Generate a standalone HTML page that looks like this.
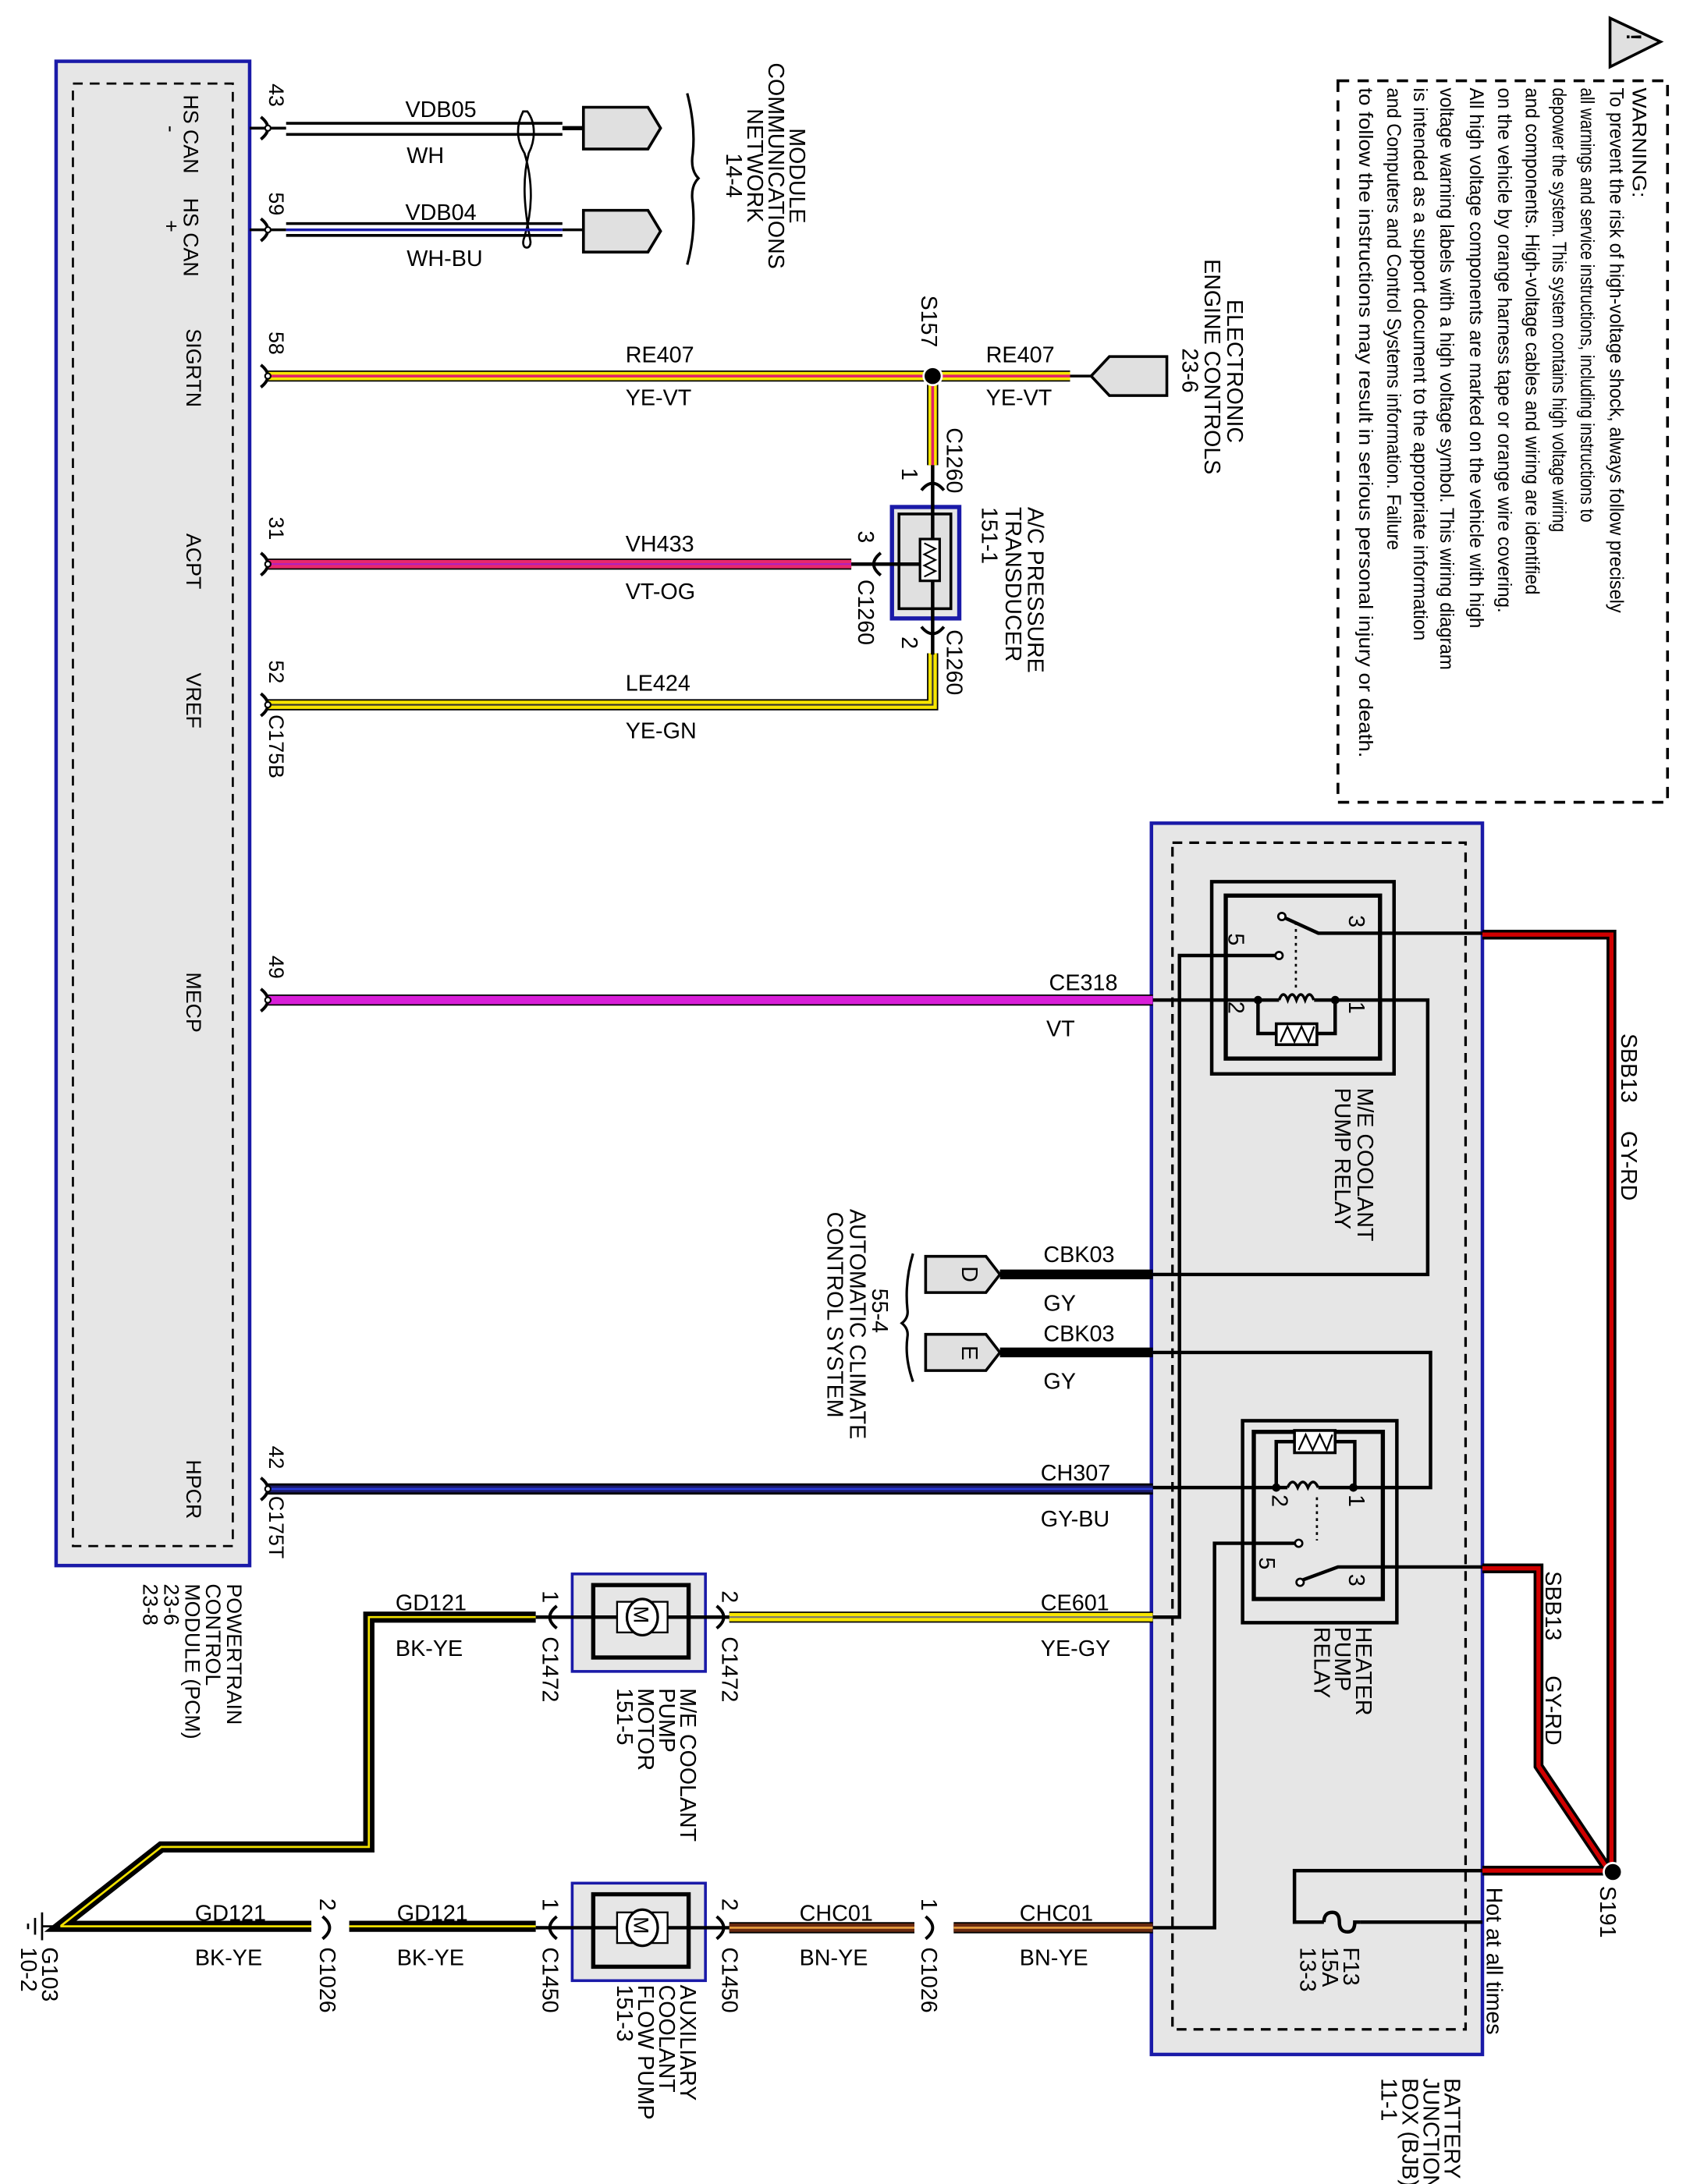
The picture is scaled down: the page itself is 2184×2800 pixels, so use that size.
<!DOCTYPE html>
<html><head><meta charset="utf-8"><style>
html,body{margin:0;padding:0;background:#fff}
svg{display:block}
text{font-family:"Liberation Sans",Arial,sans-serif;fill:#000}
.l{font-size:16px}
.s{font-size:15px}
.w{font-size:14px}
.th{fill:none;stroke:#000;stroke-width:2.5}
.ch{fill:none;stroke:#000;stroke-width:2.2}
</style></head><body>
<svg xmlns="http://www.w3.org/2000/svg" width="2184" height="2800" viewBox="0 0 1215 1568" preserveAspectRatio="none">
<rect width="1215" height="1568" fill="#fff"/>

<!-- PCM -->
<rect x="40" y="44" width="138" height="1080" fill="#e6e6e6" stroke="#1a1aa8" stroke-width="2.5"/>
<rect x="52" y="60" width="114" height="1050" fill="none" stroke="#000" stroke-width="1.5" stroke-dasharray="7 5"/>
<g class="s">
<text transform="translate(131 68) rotate(90)">HS CAN</text>
<text transform="translate(117 90) rotate(90)">-</text>
<text transform="translate(131 142) rotate(90)">HS CAN</text>
<text transform="translate(117 158) rotate(90)">+</text>
<text transform="translate(133 236) rotate(90)">SIGRTN</text>
<text transform="translate(133 383) rotate(90)">ACPT</text>
<text transform="translate(133 483) rotate(90)">VREF</text>
<text transform="translate(133 698) rotate(90)">MECP</text>
<text transform="translate(133 1048) rotate(90)">HPCR</text>
<text transform="translate(192 60) rotate(90)">43</text>
<text transform="translate(192 138) rotate(90)">59</text>
<text transform="translate(192 238) rotate(90)">58</text>
<text transform="translate(192 371) rotate(90)">31</text>
<text transform="translate(192 474) rotate(90)">52</text>
<text transform="translate(192 686) rotate(90)">49</text>
<text transform="translate(192 1038) rotate(90)">42</text>
<text transform="translate(192 513) rotate(90)">C175B</text>
<text transform="translate(192 1074) rotate(90)">C175T</text>
<text transform="translate(162 1137) rotate(90)">POWERTRAIN</text>
<text transform="translate(147 1137) rotate(90)">CONTROL</text>
<text transform="translate(132 1137) rotate(90)">MODULE (PCM)</text>
<text transform="translate(117 1137) rotate(90)">23-6</text>
<text transform="translate(102 1137) rotate(90)">23-8</text>
</g>

<!-- BJB -->
<rect x="821" y="591" width="236" height="884" fill="#e6e6e6" stroke="#1a1aa8" stroke-width="2.5"/>
<rect x="836" y="605" width="209" height="852" fill="none" stroke="#000" stroke-width="1.8" stroke-dasharray="7 5"/>

<!-- CAN wires -->
<g stroke="#000" stroke-width="2" fill="none">
<path d="M178 92 H204"/><path d="M178 165 H204"/>
<path d="M204 88.5 H401"/><path d="M204 96.5 H401"/>
<path d="M204 160.5 H401"/><path d="M204 169 H401"/>
<path d="M401 92 H416" stroke-width="3"/><path d="M401 165 H416"/>
<path d="M373 80 C 368 90, 368 100, 374 110 C 380 130, 380 150, 374 170 C 370 180, 380 180, 378 172 C 374 150, 372 130, 377 110 C 382 100, 382 88, 376 80 Z" stroke-width="1.5"/>
</g>
<path d="M204 165 H401" stroke="#1a1aa8" stroke-width="2"/>
<path d="M416 77 H462 L471 92 L462 107 H416 Z" fill="#e0e0e0" stroke="#000" stroke-width="2"/>
<path d="M416 151 H462 L471 166 L462 181 H416 Z" fill="#e0e0e0" stroke="#000" stroke-width="2"/>
<path d="M490 67 Q496 90 494 110 Q492 122 498 128 Q492 134 494 146 Q496 168 490 190" fill="none" stroke="#000" stroke-width="1.8"/>
<g class="l">
<text x="289" y="84">VDB05</text><text x="290" y="117">WH</text>
<text x="289" y="158">VDB04</text><text x="290" y="191">WH-BU</text>
<text transform="translate(563 92) rotate(90)">MODULE</text>
<text transform="translate(548 45) rotate(90)">COMMUNICATIONS</text>
<text transform="translate(533 78) rotate(90)">NETWORK</text>
<text transform="translate(518 110) rotate(90)">14-4</text>
</g>

<!-- Wire 58 YE-VT -->
<g fill="none" stroke-linejoin="miter">
<path d="M190 270 H763 M665 270 V334" stroke="#000" stroke-width="8"/>
<path d="M190 270 H763 M665 270 V334" stroke="#f7e600" stroke-width="6"/>
<path d="M190 270 H763 M665 270 V334" stroke="#e0206a" stroke-width="2"/>
<!-- 31 VT-OG -->
<path d="M190 405 H607" stroke="#000" stroke-width="8"/>
<path d="M190 405 H607" stroke="#e8286c" stroke-width="6"/>
<path d="M190 405 H607" stroke="#b020c0" stroke-width="1.2"/>
<!-- 52 YE-GN -->
<path d="M190 506 H665 V469" stroke="#000" stroke-width="8"/>
<path d="M190 506 H665 V469" stroke="#f7e600" stroke-width="6"/>
<path d="M190 506 H665 V469" stroke="#333" stroke-width="1.2"/>
<!-- 49 VT -->
<path d="M190 718 H822" stroke="#000" stroke-width="8"/>
<path d="M190 718 H822" stroke="#d81ed8" stroke-width="6"/>
<!-- 42 GY-BU -->
<path d="M190 1069 H822" stroke="#000" stroke-width="8"/>
<path d="M190 1069 H822" stroke="#1a1a6a" stroke-width="5"/>
<path d="M190 1069 H822" stroke="#2a3ad8" stroke-width="1.5"/>
<!-- CBK03 -->
<path d="M713 915 H822 M713 971 H822" stroke="#000" stroke-width="7"/>
<!-- CE601 YE-GY -->
<path d="M520 1161 H822" stroke="#000" stroke-width="8"/>
<path d="M520 1161 H822" stroke="#f7e600" stroke-width="6"/>
<path d="M520 1161 H822" stroke="#777" stroke-width="1.2"/>
<!-- GD121 -->
<path d="M382 1161 H263 V1326 H115 L43 1383 H222 M249 1383 H382" stroke="#000" stroke-width="8"/>
<path d="M382 1161 H263 V1326 H115 L43 1383 H222 M249 1383 H382" stroke="#f0e000" stroke-width="1.5"/>
<!-- CHC01 -->
<path d="M520 1384 H652 M680 1384 H822" stroke="#000" stroke-width="8"/>
<path d="M520 1384 H652 M680 1384 H822" stroke="#6a2a10" stroke-width="6"/>
<path d="M520 1384 H652 M680 1384 H822" stroke="#e8a040" stroke-width="1.5"/>
<!-- SBB13 -->
<path d="M1057 671 H1149 V1343 M1057 1126 H1097 V1268 L1147 1343 M1057 1343 H1147" stroke="#000" stroke-width="7"/>
<path d="M1057 671 H1149 V1343 M1057 1126 H1097 V1268 L1147 1343 M1057 1343 H1147" stroke="#d00000" stroke-width="3"/>
</g>
<circle cx="665" cy="270" r="6.5" fill="#000" stroke="#fff" stroke-width="1.5"/>
<circle cx="1150" cy="1344" r="6.5" fill="#000" stroke="#fff" stroke-width="1.5"/>

<!-- EEC connector -->
<path d="M763 270 H778 M778 270 L791 256 H832 V284 H791 Z" fill="#e0e0e0" stroke="#000" stroke-width="2"/>

<!-- chevrons on PCM pins -->
<g class="ch">
<path d="M186 84 Q196 92 186 100"/><path d="M186 157 Q196 165 186 173"/>
<path d="M186 262 Q196 270 186 278"/><path d="M186 397 Q196 405 186 413"/>
<path d="M186 498 Q196 506 186 514"/><path d="M186 710 Q196 718 186 726"/>
<path d="M186 1061 Q196 1069 186 1077"/>
<path d="M657 352 Q665 342 673 352"/>
<path d="M628 397 Q618 405 628 413"/>
<path d="M657 450 Q665 460 673 450"/>
<path d="M397 1153 Q387 1161 397 1169"/><path d="M511 1153 Q521 1161 511 1169"/>
<path d="M397 1376 Q387 1384 397 1392"/><path d="M511 1376 Q521 1384 511 1392"/>
<path d="M230 1376 Q240 1384 230 1392"/><path d="M660 1376 Q670 1384 660 1392"/>
</g>
<g fill="#fff" stroke="#000" stroke-width="1.2">
<circle cx="191" cy="92" r="2"/><circle cx="191" cy="165" r="2"/><circle cx="191" cy="270" r="2"/><circle cx="191" cy="405" r="2"/><circle cx="191" cy="506" r="2"/><circle cx="191" cy="718" r="2"/><circle cx="191" cy="1069" r="2"/>
</g>

<!-- A/C pressure transducer -->
<rect x="636" y="364" width="48" height="80" fill="#e6e6e6" stroke="#1a1aa8" stroke-width="3"/>
<rect x="641" y="369" width="37" height="68" fill="#e0e0e0" stroke="#000" stroke-width="2"/>
<path d="M665 334 V470 M607 405 H656" class="th"/>
<rect x="656" y="387" width="14" height="30" fill="#fff" stroke="#000" stroke-width="1.8"/>
<path d="M659 390 L667 394 L659 398 L667 402 L659 406 L667 410 L659 414" fill="none" stroke="#000" stroke-width="1.2"/>
<g class="l">
<text x="446" y="260">RE407</text><text x="446" y="291">YE-VT</text>
<text x="703" y="260">RE407</text><text x="703" y="291">YE-VT</text>
<text x="446" y="396">VH433</text><text x="446" y="430">VT-OG</text>
<text x="446" y="496">LE424</text><text x="446" y="530">YE-GN</text>
<text x="748" y="711">CE318</text><text x="746" y="744">VT</text>
<text x="744" y="906">CBK03</text><text x="744" y="941">GY</text>
<text x="744" y="963">CBK03</text><text x="744" y="997">GY</text>
<text x="742" y="1063">CH307</text><text x="742" y="1096">GY-BU</text>
<text x="742" y="1156">CE601</text><text x="742" y="1189">YE-GY</text>
<text x="282" y="1156">GD121</text><text x="282" y="1189">BK-YE</text>
<text x="570" y="1379">CHC01</text><text x="570" y="1411">BN-YE</text>
<text x="727" y="1379">CHC01</text><text x="727" y="1411">BN-YE</text>
<text x="283" y="1379">GD121</text><text x="283" y="1411">BK-YE</text>
<text x="139" y="1379">GD121</text><text x="139" y="1411">BK-YE</text>
</g>
<g class="l">
<text transform="translate(657 212) rotate(90)">S157</text>
<text transform="translate(675 307) rotate(90)">C1260</text>
<text transform="translate(643 336) rotate(90)">1</text>
<text transform="translate(612 381) rotate(90)">3</text>
<text transform="translate(612 416) rotate(90)">C1260</text>
<text transform="translate(643 457) rotate(90)">2</text>
<text transform="translate(675 452) rotate(90)">C1260</text>
<text transform="translate(733 364) rotate(90)">A/C PRESSURE</text>
<text transform="translate(717 364) rotate(90)">TRANSDUCER</text>
<text transform="translate(700 364) rotate(90)">151-1</text>
<text transform="translate(875 215) rotate(90)">ELECTRONIC</text>
<text transform="translate(859 186) rotate(90)">ENGINE CONTROLS</text>
<text transform="translate(843 250) rotate(90)">23-6</text>
</g>

<!-- ACCS connectors -->
<path d="M713 915 L703 902 H660 V928 H703 Z" fill="#e0e0e0" stroke="#000" stroke-width="2"/>
<path d="M713 971 L703 958 H660 V984 H703 Z" fill="#e0e0e0" stroke="#000" stroke-width="2"/>
<text class="l" transform="translate(686 909) rotate(90)">D</text>
<text class="l" transform="translate(686 966) rotate(90)">E</text>
<path d="M651 900 Q645 920 647 940 Q648 946 643 950 Q648 954 647 960 Q645 975 651 992" fill="none" stroke="#000" stroke-width="1.8"/>
<g class="l">
<text transform="translate(622 925) rotate(90)">55-4</text>
<text transform="translate(606 868) rotate(90)">AUTOMATIC CLIMATE</text>
<text transform="translate(590 870) rotate(90)">CONTROL SYSTEM</text>
</g>

<!-- M/E relay -->
<rect x="864" y="633" width="130" height="138" fill="none" stroke="#000" stroke-width="2.5"/>
<rect x="874" y="643" width="110" height="117" fill="none" stroke="#000" stroke-width="3"/>
<path class="th" d="M822 718 H897 M952 718 H1018 V915 H822 M897 718 V742 H910 M939 742 H952 V718 M1057 670 H940 L914 658 M909 686 H841 V1161 H822 M897 718 H912 M937 718 H952"/>
<path d="M912 718 q3.1 -8 6.2 0 q3.1 -8 6.2 0 q3.1 -8 6.2 0 q3.1 -8 6.2 0" fill="none" stroke="#000" stroke-width="2"/>
<rect x="910" y="735" width="29" height="15" fill="#fff" stroke="#000" stroke-width="2"/>
<path d="M913 748 L918 737 L923 748 L928 737 L933 748 L937 737" fill="none" stroke="#000" stroke-width="1.3"/>
<path d="M924 662 V712" stroke="#000" stroke-width="1.5" stroke-dasharray="2 3"/>
<circle cx="897" cy="718" r="3" fill="#000"/><circle cx="952" cy="718" r="3" fill="#000"/>
<circle cx="912" cy="686" r="2.6" fill="#fff" stroke="#000" stroke-width="1.5"/>
<circle cx="914" cy="658" r="2.6" fill="#fff" stroke="#000" stroke-width="1.5"/>
<g class="l">
<text transform="translate(962 657) rotate(90)">3</text>
<text transform="translate(876 670) rotate(90)">5</text>
<text transform="translate(876 719) rotate(90)">2</text>
<text transform="translate(962 719) rotate(90)">1</text>
<text transform="translate(968 781) rotate(90)">M/E COOLANT</text>
<text transform="translate(952 781) rotate(90)">PUMP RELAY</text>
</g>

<!-- Heater relay -->
<rect x="886" y="1020" width="110" height="145" fill="none" stroke="#000" stroke-width="2.5"/>
<rect x="894" y="1028" width="92" height="120" fill="none" stroke="#000" stroke-width="3"/>
<path class="th" d="M822 971 H1020 V1068 H965 M822 1068 H918 M940 1068 H965 M910 1068 V1035 H923 M952 1035 H966 V1068 M923 1108 H866 V1384 H822 M1057 1125 H954 L927 1135 M1057 1343 H923 V1380 H944 M970 1380 H1057"/>
<path d="M918 1068 q3.7 -8 7.3 0 q3.7 -8 7.3 0 q3.7 -8 7.3 0" fill="none" stroke="#000" stroke-width="2"/>
<rect x="923" y="1027" width="29" height="16" fill="#fff" stroke="#000" stroke-width="2"/>
<path d="M926 1041 L931 1030 L936 1041 L941 1030 L946 1041 L950 1030" fill="none" stroke="#000" stroke-width="1.3"/>
<path d="M939 1075 V1106" stroke="#000" stroke-width="1.5" stroke-dasharray="2 3"/>
<circle cx="910" cy="1068" r="3" fill="#000"/><circle cx="965" cy="1068" r="3" fill="#000"/>
<circle cx="926" cy="1108" r="2.6" fill="#fff" stroke="#000" stroke-width="1.5"/>
<circle cx="927" cy="1136" r="2.6" fill="#fff" stroke="#000" stroke-width="1.5"/>
<path d="M944 1380 q0 -7 6 -7 q5 0 5 7 q0 7 6 7 q5 0 5 -7 H970" fill="none" stroke="#000" stroke-width="2.5"/>
<g class="l">
<text transform="translate(907 1073) rotate(90)">2</text>
<text transform="translate(962 1073) rotate(90)">1</text>
<text transform="translate(898 1118) rotate(90)">5</text>
<text transform="translate(962 1130) rotate(90)">3</text>
<text transform="translate(967 1168) rotate(90)">HEATER</text>
<text transform="translate(952 1168) rotate(90)">PUMP</text>
<text transform="translate(937 1168) rotate(90)">RELAY</text>
<text transform="translate(1156 742) rotate(90)">SBB13</text>
<text transform="translate(1156 812) rotate(90)">GY-RD</text>
<text transform="translate(1102 1128) rotate(90)">SBB13</text>
<text transform="translate(1102 1203) rotate(90)">GY-RD</text>
<text transform="translate(1141 1354) rotate(90)">S191</text>
<text transform="translate(1060 1355) rotate(90)">Hot at all times</text>
<text transform="translate(958 1398) rotate(90)">F13</text>
<text transform="translate(943 1398) rotate(90)">15A</text>
<text transform="translate(927 1398) rotate(90)">13-3</text>
<text transform="translate(1030 1492) rotate(90)">BATTERY</text>
<text transform="translate(1015 1492) rotate(90)">JUNCTION</text>
<text transform="translate(1000 1492) rotate(90)">BOX (BJB)</text>
<text transform="translate(985 1492) rotate(90)">11-1</text>
</g>

<!-- Motors -->
<rect x="408" y="1130" width="95" height="70" fill="#e6e6e6" stroke="#1a1aa8" stroke-width="2"/>
<rect x="423" y="1138" width="68" height="52" fill="none" stroke="#000" stroke-width="3"/>
<path d="M382 1161 H520" class="th"/>
<rect x="440" y="1150" width="36" height="22" fill="#fff" stroke="#000" stroke-width="1.3"/>
<ellipse cx="458" cy="1161" rx="11" ry="13" fill="#fff" stroke="#000" stroke-width="1.8"/>
<text class="s" transform="translate(452 1153) rotate(90)">M</text>
<rect x="408" y="1352" width="95" height="70" fill="#e6e6e6" stroke="#1a1aa8" stroke-width="2"/>
<rect x="423" y="1360" width="68" height="52" fill="none" stroke="#000" stroke-width="3"/>
<path d="M382 1384 H520" class="th"/>
<rect x="440" y="1373" width="36" height="22" fill="#fff" stroke="#000" stroke-width="1.3"/>
<ellipse cx="458" cy="1384" rx="11" ry="13" fill="#fff" stroke="#000" stroke-width="1.8"/>
<text class="s" transform="translate(452 1376) rotate(90)">M</text>
<g class="l">
<text transform="translate(387 1142) rotate(90)">1</text>
<text transform="translate(387 1175) rotate(90)">C1472</text>
<text transform="translate(515 1142) rotate(90)">2</text>
<text transform="translate(515 1175) rotate(90)">C1472</text>
<text transform="translate(485 1212) rotate(90)">M/E COOLANT</text>
<text transform="translate(470 1212) rotate(90)">PUMP</text>
<text transform="translate(455 1212) rotate(90)">MOTOR</text>
<text transform="translate(440 1212) rotate(90)">151-5</text>
<text transform="translate(387 1363) rotate(90)">1</text>
<text transform="translate(387 1398) rotate(90)">C1450</text>
<text transform="translate(515 1363) rotate(90)">2</text>
<text transform="translate(515 1398) rotate(90)">C1450</text>
<text transform="translate(228 1363) rotate(90)">2</text>
<text transform="translate(228 1398) rotate(90)">C1026</text>
<text transform="translate(657 1363) rotate(90)">1</text>
<text transform="translate(657 1398) rotate(90)">C1026</text>
<text transform="translate(485 1425) rotate(90)">AUXILIARY</text>
<text transform="translate(470 1425) rotate(90)">COOLANT</text>
<text transform="translate(455 1425) rotate(90)">FLOW PUMP</text>
<text transform="translate(440 1425) rotate(90)">151-3</text>
<text transform="translate(30 1398) rotate(90)">G103</text>
<text transform="translate(15 1398) rotate(90)">10-2</text>
</g>
<!-- ground -->
<path d="M43 1383 H30 M30 1373 V1393 M25 1377 V1389 M20 1381 V1385" fill="none" stroke="#000" stroke-width="1.5"/>

<!-- Warning -->
<rect x="954" y="58" width="235" height="518" fill="none" stroke="#000" stroke-width="2" stroke-dasharray="8 6"/>
<path d="M1148 13 V48 L1184 30 Z" fill="#e0e0e0" stroke="#000" stroke-width="2"/>
<text class="s" transform="translate(1160 24) rotate(90)" font-weight="bold">!</text>
<g class="w">
<text transform="translate(1164 63) rotate(90)" textLength="79" lengthAdjust="spacingAndGlyphs">WARNING:</text>
<text transform="translate(1148 63) rotate(90)" textLength="377" lengthAdjust="spacingAndGlyphs">To prevent the risk of high-voltage shock, always follow precisely</text>
<text transform="translate(1127 63) rotate(90)" textLength="312" lengthAdjust="spacingAndGlyphs">all warnings and service instructions, including instructions to</text>
<text transform="translate(1107 63) rotate(90)" textLength="319" lengthAdjust="spacingAndGlyphs">depower the system. This system contains high voltage wiring</text>
<text transform="translate(1088 63) rotate(90)" textLength="364" lengthAdjust="spacingAndGlyphs">and components. High-voltage cables and wiring are identified</text>
<text transform="translate(1068 63) rotate(90)" textLength="377" lengthAdjust="spacingAndGlyphs">on the vehicle by orange harness tape or orange wire covering.</text>
<text transform="translate(1048 63) rotate(90)" textLength="388" lengthAdjust="spacingAndGlyphs">All high voltage components are marked on the vehicle with high</text>
<text transform="translate(1027 63) rotate(90)" textLength="418" lengthAdjust="spacingAndGlyphs">voltage warning labels with a high voltage symbol. This wiring diagram</text>
<text transform="translate(1008 63) rotate(90)" textLength="397" lengthAdjust="spacingAndGlyphs">is intended as a support document to the appropriate information</text>
<text transform="translate(989 63) rotate(90)" textLength="332" lengthAdjust="spacingAndGlyphs">and Computers and Control Systems information. Failure</text>
<text transform="translate(969 63) rotate(90)" textLength="481" lengthAdjust="spacingAndGlyphs">to follow the instructions may result in serious personal injury or death.</text>
</g>
</svg>
</body></html>
